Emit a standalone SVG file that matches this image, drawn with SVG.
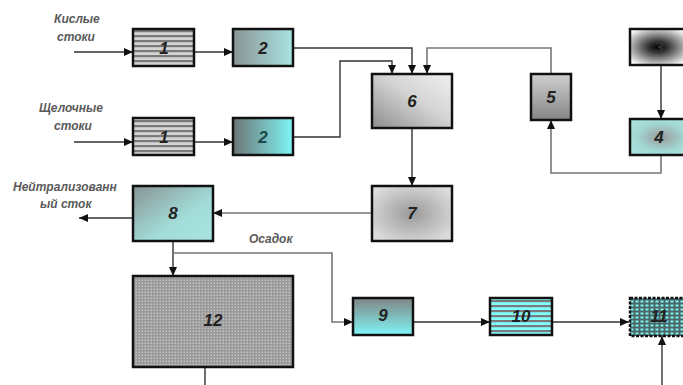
<svg xmlns="http://www.w3.org/2000/svg" width="683" height="385" viewBox="0 0 683 385">
<style>
.box{stroke:#111;stroke-width:2.5}
.num{font-family:"Liberation Sans",Arial,sans-serif;font-size:17px;font-weight:bold;font-style:italic;fill:#222;text-anchor:middle}
.lbl{font-family:"Liberation Sans",Arial,sans-serif;font-size:12px;font-weight:bold;font-style:italic;fill:#5a5a5a}
.ln{fill:none;stroke:#333;stroke-width:1.4}
.lg{fill:none;stroke:#777;stroke-width:1.6}
</style>
<defs>
<marker id="ar" markerWidth="10" markerHeight="10" refX="9" refY="5" orient="auto" markerUnits="userSpaceOnUse">
<path d="M0,1 L9,5 L0,9 Z" fill="#111"/>
</marker>
<pattern id="strG" width="6" height="5" patternUnits="userSpaceOnUse">
<rect width="6" height="5" fill="#d4d4d4"/><rect width="6" height="2.2" fill="#7a7a7a"/>
</pattern>
<pattern id="strC" width="6" height="5" patternUnits="userSpaceOnUse">
<rect width="6" height="5" fill="#80ffff"/><rect width="6" height="2.2" fill="#7a7a7a"/>
</pattern>
<pattern id="dotC" width="5" height="4" patternUnits="userSpaceOnUse">
<rect width="5" height="4" fill="#4a6666"/><rect x="0.5" y="0.5" width="3" height="2" fill="#80f4f4"/>
</pattern>
<pattern id="dotG" width="3" height="3" patternUnits="userSpaceOnUse">
<rect width="3" height="3" fill="#9a9a9a"/><rect x="0.6" y="0.6" width="1.3" height="1.3" fill="#cfcfcf"/>
</pattern>
<linearGradient id="g2a" x1="0" y1="0" x2="1" y2="0"><stop offset="0" stop-color="#8a9494"/><stop offset="1" stop-color="#a8e4e2"/></linearGradient>
<linearGradient id="g2b" x1="0" y1="0" x2="1" y2="0"><stop offset="0" stop-color="#6e7474"/><stop offset="1" stop-color="#7ff6f6"/></linearGradient>
<linearGradient id="g6" x1="0" y1="1" x2="1" y2="0"><stop offset="0" stop-color="#8e8e8e"/><stop offset="0.55" stop-color="#d4d4d4"/><stop offset="1" stop-color="#f0f0f0"/></linearGradient>
<linearGradient id="g5" x1="0" y1="0" x2="0" y2="1"><stop offset="0" stop-color="#d0d0d0"/><stop offset="1" stop-color="#858585"/></linearGradient>
<radialGradient id="g7" cx="0.5" cy="0.5" r="0.6"><stop offset="0" stop-color="#9a9a9a"/><stop offset="1" stop-color="#dcdcdc"/></radialGradient>
<linearGradient id="g8" x1="0" y1="0" x2="1" y2="1"><stop offset="0" stop-color="#889494"/><stop offset="0.6" stop-color="#a2dcd8"/><stop offset="1" stop-color="#a8e4e0"/></linearGradient>
<linearGradient id="g9" x1="0" y1="0" x2="0" y2="1"><stop offset="0" stop-color="#808484"/><stop offset="1" stop-color="#7ff6f6"/></linearGradient>
<radialGradient id="g3" cx="0.45" cy="0.5" r="0.6"><stop offset="0" stop-color="#000"/><stop offset="0.25" stop-color="#333"/><stop offset="1" stop-color="#fff"/></radialGradient>
<radialGradient id="g4" cx="0.5" cy="0.5" r="0.55"><stop offset="0" stop-color="#9a9a9a"/><stop offset="0.7" stop-color="#a2d8d4"/><stop offset="1" stop-color="#a8e0dc"/></radialGradient>
</defs>

<g id="labels">
<text class="lbl" x="54" y="23">Кислые</text>
<text class="lbl" x="57" y="41">стоки</text>
<text class="lbl" x="39" y="112">Щелочные</text>
<text class="lbl" x="54" y="130">стоки</text>
<text class="lbl" x="13" y="191">Нейтрализованн</text>
<text class="lbl" x="40" y="208">ый сток</text>
<text class="lbl" x="249" y="243">Осадок</text>
</g>

<g id="connectors">
<path class="ln" d="M74,52 H133" marker-end="url(#ar)"/>
<path class="ln" d="M194,52 H233" marker-end="url(#ar)"/>
<path class="ln" d="M74,142 H133" marker-end="url(#ar)"/>
<path class="ln" d="M194,142 H233" marker-end="url(#ar)"/>
<path class="ln" d="M293,48 H412 V74" marker-end="url(#ar)"/>
<path class="ln" d="M293,137 H340 V61 H392 V74" marker-end="url(#ar)"/>
<path class="lg" d="M551,74 V48 H427 V74" marker-end="url(#ar)"/>
<path class="ln" d="M661,64 V119" marker-end="url(#ar)"/>
<path class="lg" d="M661,155 V173 H551 V120" marker-end="url(#ar)"/>
<path class="ln" d="M412,128 V186" marker-end="url(#ar)"/>
<path class="lg" d="M372,213 H213" marker-end="url(#ar)"/>
<path class="ln" d="M133,218 H79" marker-end="url(#ar)"/>
<path class="ln" d="M173,241 V276" marker-end="url(#ar)"/>
<path class="lg" d="M173,253 H332 V322 H353" marker-end="url(#ar)"/>
<path class="ln" d="M413,322 H490" marker-end="url(#ar)"/>
<path class="ln" d="M552,322 H629" marker-end="url(#ar)"/>
<path class="ln" d="M662,385 V336" marker-end="url(#ar)"/>
<path class="ln" d="M205,367 V385"/>
</g>

<g id="n1a"><rect class="box" x="133" y="29" width="61" height="37" fill="url(#strG)"/><text class="num" x="164" y="54">1</text></g>
<g id="n2a"><rect class="box" x="233" y="29" width="60" height="37" fill="url(#g2a)"/><text class="num" x="263" y="54">2</text></g>
<g id="n1b"><rect class="box" x="133" y="118" width="61" height="37" fill="url(#strG)"/><text class="num" x="164" y="143">1</text></g>
<g id="n2b"><rect class="box" x="233" y="118" width="60" height="37" fill="url(#g2b)"/><text class="num" x="263" y="143" style="fill:#1a4a4a">2</text></g>
<g id="n6"><rect class="box" x="372" y="74" width="80" height="54" fill="url(#g6)"/><text class="num" x="412" y="107">6</text></g>
<g id="n5"><rect class="box" x="531" y="74" width="40" height="46" fill="url(#g5)"/><text class="num" x="551" y="103">5</text></g>
<g id="n3"><rect class="box" x="630" y="29" width="62" height="36" fill="url(#g3)"/><text class="num" x="659" y="53" style="fill:#333">3</text></g>
<g id="n4"><rect class="box" x="630" y="119" width="62" height="36" fill="url(#g4)"/><text class="num" x="659" y="143">4</text></g>
<g id="n7"><rect class="box" x="372" y="186" width="80" height="55" fill="url(#g7)"/><text class="num" x="412" y="219">7</text></g>
<g id="n8"><rect class="box" x="133" y="186" width="80" height="55" fill="url(#g8)"/><text class="num" x="173" y="219">8</text></g>
<g id="n12"><rect class="box" x="133" y="276" width="160" height="91" fill="url(#dotG)"/><text class="num" x="213" y="326">12</text></g>
<g id="n9"><rect class="box" x="353" y="298" width="60" height="37" fill="url(#g9)"/><text class="num" x="383" y="321">9</text></g>
<g id="n10"><rect class="box" x="490" y="298" width="62" height="37" fill="url(#strC)"/><text class="num" x="521" y="322">10</text></g>
<g id="n11"><rect class="box" x="630" y="298" width="62" height="38" fill="url(#dotC)" stroke-dasharray="3 1.5"/><text class="num" x="659" y="322">11</text></g>
</svg>
